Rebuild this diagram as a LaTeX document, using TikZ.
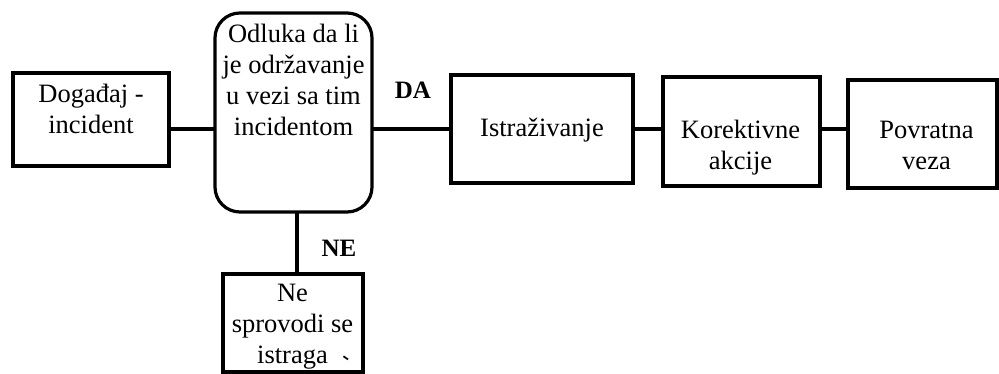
\documentclass[tikz,border=0pt]{standalone}
\usepackage{fontspec}
\usepackage{graphicx}
\setmainfont{Liberation Serif}
\begin{document}
\begin{tikzpicture}[x=1pt,y=-1pt,
  every node/.style={inner sep=0pt, outer sep=0pt},
  frame/.style={draw, line width=3.2pt},
  box/.style={frame, rectangle},
  roundbox/.style={frame, rectangle, rounded corners=25pt},
  txt/.style={align=center, font=\fontsize{26.5}{31}\selectfont},
  lbl/.style={font=\fontsize{25}{30}\selectfont\bfseries},
  link/.style={line width=3.2pt}]
\useasboundingbox (0,0) rectangle (999,374);

% boxes
\node[box, minimum width=156pt, minimum height=93pt] (dog) at (91,119.5) {};
\node[roundbox, minimum width=157pt, minimum height=199pt] (odl) at (293.5,112.5) {};
\node[box, minimum width=182pt, minimum height=108pt] (ist) at (542,129) {};
\node[box, minimum width=157pt, minimum height=109pt] (kor) at (741.5,131.5) {};
\node[box, minimum width=149pt, minimum height=108pt] (pov) at (922.5,134) {};
\node[box, minimum width=140pt, minimum height=98pt] (ne) at (293,323) {};

% box texts
\node[txt] (tdog) at (91,108.7) {Događaj -\\incident};
\node[txt] (todl) at (293.5,79.5) {Odluka da li\\je održavanje\\u vezi sa tim\\incidentom};
\node[txt, anchor=base] (tist) at (542,137) {Istraživanje};
\node[txt] (tkor) at (740.5,148) {Korektivne\\akcije};
\node[txt] (tpov) at (926.5,145) {Povratna\\veza};
\node[txt] (tne) at (292.5,326.8) {Ne\\sprovodi se\\istraga\rlap{\hspace{12pt}\raisebox{3pt}{\rotatebox{-35}{\fontsize{22}{22}\selectfont\bfseries -}}}};

% connectors
\draw[link] (dog.east |- ist.west) -- (odl.west |- ist.west);
\draw[link] (odl.east |- ist.west) -- (ist.west);
\draw[link] (ist.east) -- (kor.west |- ist.east);
\draw[link] (kor.east |- ist.east) -- (pov.west |- ist.east);
\draw[link] ([xshift=3.5pt]odl.south) -- ([xshift=4pt]ne.north);

% branch labels
\node[lbl] (da) at (413,90) {DA};
\node[lbl] (nelbl) at (339,248) {NE};
\end{tikzpicture}
\end{document}
